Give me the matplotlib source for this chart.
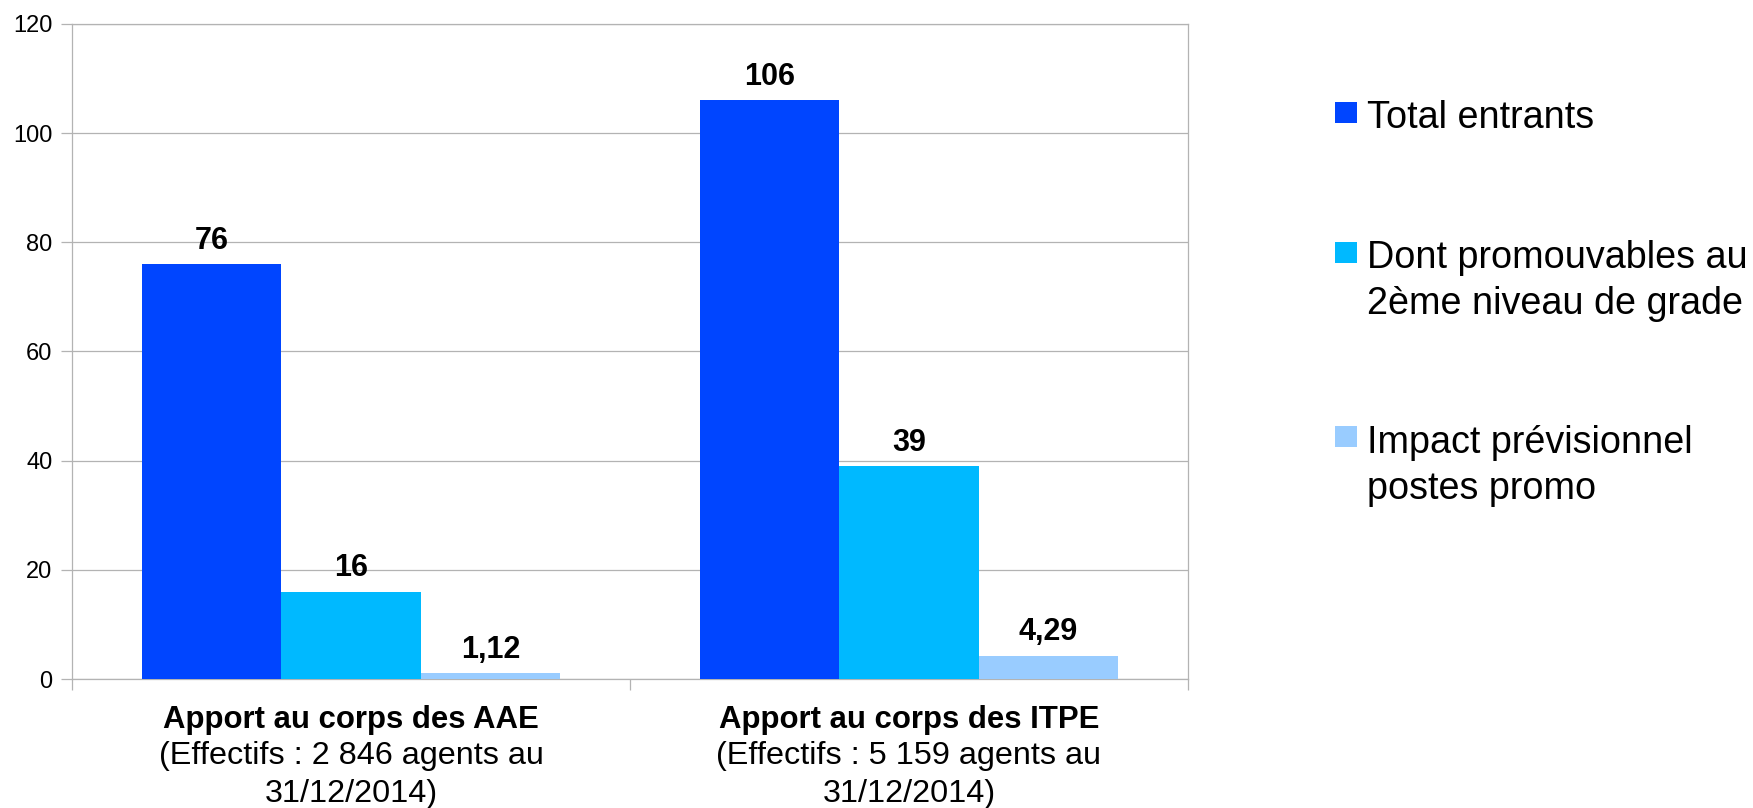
import matplotlib.pyplot as plt
import numpy as np
from matplotlib.patches import Rectangle

plt.rcParams['font.family'] = ['Liberation Sans', 'DejaVu Sans']

# données
groupes_titre = ["Apport au corps des AAE", "Apport au corps des ITPE"]
groupes_ligne2 = ["(Effectifs : 2 846 agents au", "(Effectifs : 5 159 agents au"]
groupes_ligne3 = ["31/12/2014)", "31/12/2014)"]

series = ["Total entrants",
          "Dont promouvables au\n2ème niveau de grade",
          "Impact prévisionnel\npostes promo"]
total_entrants = [76, 106]
promouvables = [16, 39]
impact = [1.12, 4.29]
etiquettes = [["76", "106"], ["16", "39"], ["1,12", "4,29"]]

couleurs = ["#0045ff", "#00b9ff", "#99ccff"]
gris = "#b3b3b3"

W, H, DPI = 1753, 808, 100
fig = plt.figure(figsize=(W / DPI, H / DPI), dpi=DPI)
ax = fig.add_axes([72 / W, (H - 679) / H, 1116 / W, 655 / H])

x = np.arange(len(groupes_titre))
largeur = 0.25
valeurs = [total_entrants, promouvables, impact]
for i, (vals, col) in enumerate(zip(valeurs, couleurs)):
    barres = ax.bar(x + (i - 1) * largeur, vals, largeur, color=col,
                    edgecolor="none", zorder=3)
    for b, lab in zip(barres, etiquettes[i]):
        ax.annotate(lab, (b.get_x() + b.get_width() / 2, b.get_height()),
                    xytext=(0, 11), textcoords="offset points",
                    ha="center", va="baseline", fontsize=22,
                    fontweight="bold", zorder=4)

ax.set_xlim(-0.5, 1.5)
ax.set_ylim(0, 120)
ax.set_yticks(np.arange(0, 121, 20))
ax.set_xticks([-0.5, 0.5, 1.5])
ax.set_xticklabels([])
ax.tick_params(axis="y", length=8, color=gris, width=0.9, labelsize=17, pad=6)
ax.tick_params(axis="x", length=8, color=gris, width=0.9)
ax.grid(axis="y", color=gris, linewidth=0.9, zorder=0)
ax.set_axisbelow(True)
for s in ax.spines.values():
    s.set_color(gris)
    s.set_linewidth(0.9)

# libellés des catégories (3 lignes)
for xi, t1, t2, t3 in zip(x, groupes_titre, groupes_ligne2, groupes_ligne3):
    ax.annotate(t1, (xi, 0), xycoords=("data", "axes fraction"),
                xytext=(0, -35.3), textcoords="offset points",
                ha="center", va="baseline", fontsize=22.4, fontweight="bold")
    ax.annotate(t2, (xi, 0), xycoords=("data", "axes fraction"),
                xytext=(0, -61.2), textcoords="offset points",
                ha="center", va="baseline", fontsize=23.3)
    ax.annotate(t3, (xi, 0), xycoords=("data", "axes fraction"),
                xytext=(0, -88.3), textcoords="offset points",
                ha="center", va="baseline", fontsize=23.3)

# légende manuelle
carres_y = [102, 242, 426]
textes_y = [100, 240, 425]
for lab, col, cy, ty in zip(series, couleurs, carres_y, textes_y):
    fig.add_artist(Rectangle((1335 / W, 1 - (cy + 21) / H), 22 / W, 21 / H,
                             transform=fig.transFigure, color=col, lw=0))
    fig.text(1367 / W, 1 - ty / H, lab, ha="left", va="top", fontsize=27.2,
             linespacing=1.36)

fig.savefig("out.png", dpi=DPI)
